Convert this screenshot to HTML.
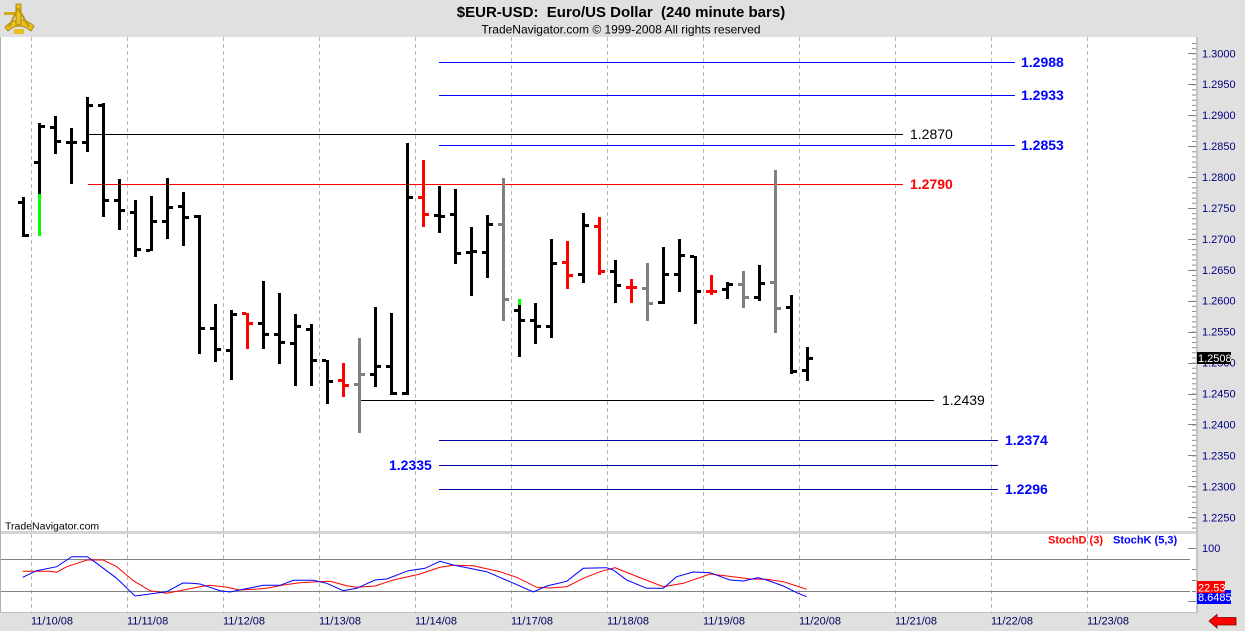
<!DOCTYPE html>
<html><head><meta charset="utf-8"><style>
html,body{margin:0;padding:0;background:#e0e0e0;}
svg{display:block;}
text{font-family:"Liberation Sans",Arial,sans-serif;}
</style></head><body>
<svg width="1245" height="631" viewBox="0 0 1245 631" xmlns="http://www.w3.org/2000/svg" shape-rendering="crispEdges">
<rect x="0" y="0" width="1245" height="631" fill="#e0e0e0"/>
<!-- panels -->
<rect x="1" y="37" width="1195" height="494" fill="#ffffff"/>
<rect x="1" y="534" width="1195" height="78" fill="#ffffff"/>
<rect x="0" y="37" width="1" height="576" fill="#b0b0b0"/>
<rect x="0" y="612" width="1198" height="1" fill="#c0c0c0"/>
<rect x="1196" y="37" width="2" height="576" fill="#c4c4c4"/>

<!-- header logo -->
<g shape-rendering="auto">
<path d="M5 27 Q19 13 34 26 L31 31 Q19 21 8 31 Z" fill="#e8c020" stroke="#a07800" stroke-width="0.8"/>
<rect x="16" y="4" width="5" height="21" fill="#e8c020" stroke="#a07800" stroke-width="0.8"/>
<rect x="4" y="12" width="12" height="3" fill="#d0a810"/>
<path d="M18 8 L9 27 M18 8 L29 27" stroke="#c09800" stroke-width="2" fill="none"/>
<rect x="14" y="29" width="10" height="5" fill="#e8c020"/>
</g>
<text x="621" y="17" font-size="15" font-weight="bold" text-anchor="middle" fill="#000" xml:space="preserve">$EUR-USD:  Euro/US Dollar  (240 minute bars)</text>
<text x="621" y="33.5" font-size="12" text-anchor="middle" fill="#000">TradeNavigator.com © 1999-2008 All rights reserved</text>

<!-- vertical grid -->
<g stroke="#b8b8b8" stroke-width="1" stroke-dasharray="4,3">
<line x1="31.5" y1="37" x2="31.5" y2="612"/>
<line x1="127.5" y1="37" x2="127.5" y2="612"/>
<line x1="223.5" y1="37" x2="223.5" y2="612"/>
<line x1="319.5" y1="37" x2="319.5" y2="612"/>
<line x1="415.5" y1="37" x2="415.5" y2="612"/>
<line x1="511.5" y1="37" x2="511.5" y2="612"/>
<line x1="607.5" y1="37" x2="607.5" y2="612"/>
<line x1="703.5" y1="37" x2="703.5" y2="612"/>
<line x1="799.5" y1="37" x2="799.5" y2="612"/>
<line x1="895.5" y1="37" x2="895.5" y2="612"/>
<line x1="991.5" y1="37" x2="991.5" y2="612"/>
<line x1="1087.5" y1="37" x2="1087.5" y2="612"/>
</g>
<rect x="1" y="531" width="1195" height="3" fill="#d4d4d4"/>

<!-- level lines -->
<g stroke-width="1">
<line x1="439" y1="62.5" x2="1015" y2="62.5" stroke="#0000ff"/>
<line x1="439" y1="95.5" x2="1015" y2="95.5" stroke="#0000ff"/>
<line x1="439" y1="145.5" x2="1015" y2="145.5" stroke="#0000ff"/>
<line x1="88" y1="134.5" x2="903" y2="134.5" stroke="#000000"/>
<line x1="88" y1="184.5" x2="903" y2="184.5" stroke="#ff0000"/>
<line x1="358" y1="400.5" x2="934" y2="400.5" stroke="#000000"/>
<line x1="439" y1="440.5" x2="998" y2="440.5" stroke="#0000a0"/>
<line x1="439" y1="465.5" x2="998" y2="465.5" stroke="#0000a0"/>
<line x1="439" y1="489.5" x2="998" y2="489.5" stroke="#0000a0"/>
</g>
<g font-size="14" shape-rendering="auto">
<text x="1021" y="67" font-weight="bold" fill="#0000ff">1.2988</text>
<text x="1021" y="100" font-weight="bold" fill="#0000ff">1.2933</text>
<text x="1021" y="150" font-weight="bold" fill="#0000ff">1.2853</text>
<text x="910" y="139" fill="#000">1.2870</text>
<text x="910" y="189" font-weight="bold" fill="#ff0000">1.2790</text>
<text x="942" y="405" fill="#000">1.2439</text>
<text x="1005" y="445" font-weight="bold" fill="#0000ff">1.2374</text>
<text x="389" y="470" font-weight="bold" fill="#0000ff">1.2335</text>
<text x="1005" y="494" font-weight="bold" fill="#0000ff">1.2296</text>
</g>

<!-- bars: black -->
<g fill="#000000">
<rect x="22" y="197" width="3" height="40"/><rect x="18" y="201" width="4" height="3"/><rect x="25" y="234" width="4" height="3"/>
<rect x="38" y="123" width="3" height="113"/><rect x="34" y="161" width="4" height="3"/><rect x="41" y="125" width="4" height="3"/>
<rect x="54" y="116" width="3" height="38"/><rect x="50" y="126" width="4" height="3"/><rect x="57" y="140" width="4" height="3"/>
<rect x="70" y="128" width="3" height="56"/><rect x="66" y="141" width="4" height="3"/><rect x="73" y="141" width="4" height="3"/>
<rect x="86" y="97" width="3" height="55"/><rect x="82" y="141" width="4" height="3"/><rect x="89" y="104" width="4" height="3"/>
<rect x="102" y="103" width="3" height="114"/><rect x="98" y="104" width="4" height="3"/><rect x="105" y="199" width="4" height="3"/>
<rect x="118" y="179" width="3" height="51"/><rect x="114" y="199" width="4" height="3"/><rect x="121" y="209" width="4" height="3"/>
<rect x="134" y="200" width="3" height="57"/><rect x="130" y="211" width="4" height="3"/><rect x="137" y="248" width="4" height="3"/>
<rect x="150" y="196" width="3" height="55"/><rect x="146" y="249" width="4" height="3"/><rect x="153" y="220" width="4" height="3"/>
<rect x="166" y="178" width="3" height="61"/><rect x="162" y="220" width="4" height="3"/><rect x="169" y="206" width="4" height="3"/>
<rect x="182" y="192" width="3" height="54"/><rect x="178" y="205" width="4" height="3"/><rect x="185" y="216" width="4" height="3"/>
<rect x="198" y="215" width="3" height="139"/><rect x="194" y="215" width="4" height="3"/><rect x="201" y="327" width="4" height="3"/>
<rect x="214" y="304" width="3" height="58"/><rect x="210" y="327" width="4" height="3"/><rect x="217" y="348" width="4" height="3"/>
<rect x="230" y="310" width="3" height="70"/><rect x="226" y="349" width="4" height="3"/><rect x="233" y="313" width="4" height="3"/>
<rect x="262" y="281" width="3" height="68"/><rect x="258" y="322" width="4" height="3"/><rect x="265" y="333" width="4" height="3"/>
<rect x="278" y="293" width="3" height="71"/><rect x="274" y="333" width="4" height="3"/><rect x="281" y="341" width="4" height="3"/>
<rect x="294" y="314" width="3" height="72"/><rect x="290" y="342" width="4" height="3"/><rect x="297" y="325" width="4" height="3"/>
<rect x="310" y="324" width="3" height="62"/><rect x="306" y="328" width="4" height="3"/><rect x="313" y="359" width="4" height="3"/>
<rect x="326" y="360" width="3" height="44"/><rect x="322" y="359" width="4" height="3"/><rect x="329" y="380" width="4" height="3"/>
<rect x="374" y="307" width="3" height="80"/><rect x="370" y="373" width="4" height="3"/><rect x="377" y="365" width="4" height="3"/>
<rect x="390" y="313" width="3" height="82"/><rect x="386" y="365" width="4" height="3"/><rect x="393" y="392" width="4" height="3"/>
<rect x="406" y="143" width="3" height="252"/><rect x="402" y="392" width="4" height="3"/><rect x="409" y="196" width="4" height="3"/>
<rect x="438" y="186" width="3" height="47"/><rect x="434" y="214" width="4" height="3"/><rect x="441" y="215" width="4" height="3"/>
<rect x="454" y="189" width="3" height="75"/><rect x="450" y="213" width="4" height="3"/><rect x="457" y="252" width="4" height="3"/>
<rect x="470" y="227" width="3" height="69"/><rect x="466" y="251" width="4" height="3"/><rect x="473" y="250" width="4" height="3"/>
<rect x="486" y="215" width="3" height="63"/><rect x="482" y="251" width="4" height="3"/><rect x="489" y="223" width="4" height="3"/>
<rect x="518" y="299" width="3" height="58"/><rect x="514" y="309" width="4" height="3"/><rect x="521" y="319" width="4" height="3"/>
<rect x="534" y="303" width="3" height="41"/><rect x="530" y="319" width="4" height="3"/><rect x="537" y="325" width="4" height="3"/>
<rect x="550" y="239" width="3" height="99"/><rect x="546" y="325" width="4" height="3"/><rect x="553" y="262" width="4" height="3"/>
<rect x="582" y="213" width="3" height="70"/><rect x="578" y="273" width="4" height="3"/><rect x="585" y="224" width="4" height="3"/>
<rect x="614" y="260" width="3" height="43"/><rect x="610" y="270" width="4" height="3"/><rect x="617" y="284" width="4" height="3"/>
<rect x="662" y="247" width="3" height="57"/><rect x="658" y="301" width="4" height="3"/><rect x="665" y="273" width="4" height="3"/>
<rect x="678" y="239" width="3" height="53"/><rect x="674" y="273" width="4" height="3"/><rect x="681" y="254" width="4" height="3"/>
<rect x="694" y="256" width="3" height="68"/><rect x="690" y="255" width="4" height="3"/><rect x="697" y="290" width="4" height="3"/>
<rect x="726" y="282" width="3" height="17"/><rect x="722" y="288" width="4" height="3"/><rect x="729" y="283" width="4" height="3"/>
<rect x="758" y="265" width="3" height="36"/><rect x="754" y="296" width="4" height="3"/><rect x="761" y="282" width="4" height="3"/>
<rect x="790" y="295" width="3" height="79"/><rect x="786" y="306" width="4" height="3"/><rect x="793" y="370" width="4" height="3"/>
<rect x="806" y="347" width="3" height="34"/><rect x="802" y="369" width="4" height="3"/><rect x="809" y="357" width="4" height="3"/>
</g>
<!-- bars: red -->
<g fill="#ff0000">
<rect x="246" y="313" width="3" height="36"/><rect x="242" y="312" width="4" height="3"/><rect x="249" y="322" width="4" height="3"/>
<rect x="342" y="363" width="3" height="34"/><rect x="338" y="379" width="4" height="3"/><rect x="345" y="384" width="4" height="3"/>
<rect x="422" y="160" width="3" height="67"/><rect x="418" y="196" width="4" height="3"/><rect x="425" y="213" width="4" height="3"/>
<rect x="566" y="241" width="3" height="48"/><rect x="562" y="261" width="4" height="3"/><rect x="569" y="274" width="4" height="3"/>
<rect x="598" y="217" width="3" height="58"/><rect x="594" y="225" width="4" height="3"/><rect x="601" y="270" width="4" height="3"/>
<rect x="630" y="279" width="3" height="24"/><rect x="626" y="286" width="4" height="3"/><rect x="633" y="286" width="4" height="3"/>
<rect x="710" y="275" width="3" height="20"/><rect x="706" y="290" width="4" height="3"/><rect x="713" y="290" width="4" height="3"/>
</g>
<!-- bars: gray -->
<g fill="#808080">
<rect x="358" y="338" width="3" height="95"/><rect x="354" y="383" width="4" height="3"/><rect x="361" y="373" width="4" height="3"/>
<rect x="502" y="178" width="3" height="143"/><rect x="498" y="223" width="4" height="3"/><rect x="505" y="298" width="4" height="3"/>
<rect x="646" y="263" width="3" height="58"/><rect x="642" y="287" width="4" height="3"/><rect x="649" y="302" width="4" height="3"/>
<rect x="742" y="271" width="3" height="37"/><rect x="738" y="283" width="4" height="3"/><rect x="745" y="296" width="4" height="3"/>
<rect x="774" y="170" width="3" height="163"/><rect x="770" y="281" width="4" height="3"/><rect x="777" y="307" width="4" height="3"/>
</g>
<!-- green segments -->
<g fill="#00ff00">
<rect x="38" y="194" width="3" height="42"/>
<rect x="518" y="299" width="3" height="6"/>
</g>

<text x="5" y="529.5" font-size="10.5" fill="#000" shape-rendering="auto">TradeNavigator.com</text>

<!-- stoch panel -->
<line x1="1" y1="559.5" x2="1190" y2="559.5" stroke="#808080"/>
<line x1="1" y1="591.5" x2="1190" y2="591.5" stroke="#808080"/>
<g fill="none" stroke-width="1" shape-rendering="auto">
<polyline stroke="#ff0000" points="22.7,571.3 50,571.3 56.7,572.3 66.7,566.7 87.3,560 103.3,560 116.7,566.7 133.3,580.7 150,590.7 166.7,593.3 183.3,590 200,586.7 210,585.3 226.7,587.3 240,590 253.3,589.3 266.7,588.3 283.3,585 300,582.7 316.7,581.7 330,581.3 346.7,585.7 356.7,587.3 375,586 393.3,580 420,574 440,567.3 453.3,565.3 473.3,565.7 500,571.7 516.7,577.3 536.7,587.3 550,588 566.7,586.7 583.3,578.3 600,571.7 615,567.7 633.3,575 663.3,586.7 683.3,583.3 710,574 733.3,576.7 750,579 766.7,579.3 783.3,581.7 796.7,586 806.7,589.3"/>
<polyline stroke="#0000ff" points="22.7,577.3 36.7,570.7 56.7,566.7 71.7,556.7 87.3,556.7 96.7,563.3 116.7,578.3 135,596 150,594 166.7,591.7 182.7,583 191.7,583.3 200,584 210,587.3 220,590.7 230,592 243.3,589.3 263.3,585.3 280,585.3 293.3,580.3 313.3,580.3 326.7,583.3 343.3,590.7 356.7,588.3 375,580 386.7,579 408.3,570.7 425,568.3 440,561.3 453.3,565 486.7,571.7 510,581.7 533.3,592 546.7,586 566.7,581.3 583.3,568.3 606.7,567.7 613.3,570 626.7,580 646.7,588.3 663.3,588.3 676.7,576.7 693.3,572 710,572.7 730,580 743.3,581 758.3,577.7 766.7,580 783.3,586 796.7,592.7 806.7,596.7"/>
</g>
<g font-size="11" font-weight="bold" shape-rendering="auto">
<text x="1048" y="543.5" fill="#ff0000">StochD (3)</text>
<text x="1113" y="543.5" fill="#0000ff">StochK (5,3)</text>
</g>

<!-- right axis ticks -->
<line x1="1194" y1="43" x2="1194" y2="530" stroke="#909090" stroke-width="4" stroke-dasharray="1 4.155" shape-rendering="auto"/>
<g fill="#808080">
<rect x="1188" y="53" width="8" height="1"/>
<rect x="1188" y="84" width="8" height="1"/>
<rect x="1188" y="115" width="8" height="1"/>
<rect x="1188" y="146" width="8" height="1"/>
<rect x="1188" y="177" width="8" height="1"/>
<rect x="1188" y="208" width="8" height="1"/>
<rect x="1188" y="239" width="8" height="1"/>
<rect x="1188" y="270" width="8" height="1"/>
<rect x="1188" y="301" width="8" height="1"/>
<rect x="1188" y="332" width="8" height="1"/>
<rect x="1188" y="363" width="8" height="1"/>
<rect x="1188" y="394" width="8" height="1"/>
<rect x="1188" y="424" width="8" height="1"/>
<rect x="1188" y="455" width="8" height="1"/>
<rect x="1188" y="486" width="8" height="1"/>
<rect x="1188" y="517" width="8" height="1"/>
</g>
<g font-size="11" fill="#000080" shape-rendering="auto">
<text x="1202" y="57.3">1.3000</text>
<text x="1202" y="88.2">1.2950</text>
<text x="1202" y="119.2">1.2900</text>
<text x="1202" y="150.1">1.2850</text>
<text x="1202" y="181">1.2800</text>
<text x="1202" y="212">1.2750</text>
<text x="1202" y="242.9">1.2700</text>
<text x="1202" y="273.8">1.2650</text>
<text x="1202" y="304.7">1.2600</text>
<text x="1202" y="335.7">1.2550</text>
<text x="1202" y="366.6">1.2500</text>
<text x="1202" y="397.5">1.2450</text>
<text x="1202" y="428.5">1.2400</text>
<text x="1202" y="459.4">1.2350</text>
<text x="1202" y="490.3">1.2300</text>
<text x="1202" y="521.3">1.2250</text>
</g>
<rect x="1197" y="352" width="34" height="12" fill="#000"/>
<text x="1198" y="362" font-size="11" fill="#fff" shape-rendering="auto">1.2508</text>
<text x="1202" y="552" font-size="11" fill="#000080" shape-rendering="auto">100</text>
<rect x="1188" y="548" width="8" height="1" fill="#808080"/>
<rect x="1192" y="569" width="4" height="1" fill="#808080"/>
<rect x="1192" y="580" width="4" height="1" fill="#808080"/>
<rect x="1192" y="591" width="4" height="1" fill="#808080"/>
<rect x="1188" y="601" width="8" height="1" fill="#808080"/>
<rect x="1197" y="590" width="34" height="14" fill="#0000ff"/>
<text x="1198" y="601" font-size="11" fill="#fff" shape-rendering="auto">8.6485</text>
<rect x="1197" y="581" width="28" height="12" fill="#ff0000"/>
<text x="1198" y="591.5" font-size="11" fill="#fff" shape-rendering="auto">22.53</text>

<!-- date labels -->
<g font-size="11" fill="#000060" shape-rendering="auto">
<text x="31" y="624.5">11/10/08</text>
<text x="127" y="624.5">11/11/08</text>
<text x="223" y="624.5">11/12/08</text>
<text x="319" y="624.5">11/13/08</text>
<text x="415" y="624.5">11/14/08</text>
<text x="511" y="624.5">11/17/08</text>
<text x="607" y="624.5">11/18/08</text>
<text x="703" y="624.5">11/19/08</text>
<text x="799" y="624.5">11/20/08</text>
<text x="895" y="624.5">11/21/08</text>
<text x="991" y="624.5">11/22/08</text>
<text x="1087" y="624.5">11/23/08</text>
</g>

<!-- red arrow -->
<path d="M1209 621 L1217 614.5 L1217 617.5 L1236 617.5 L1236 625 L1217 625 L1217 628 Z" fill="#ff0000" stroke="#800000" stroke-width="0.8" shape-rendering="auto"/>
</svg>
</body></html>
